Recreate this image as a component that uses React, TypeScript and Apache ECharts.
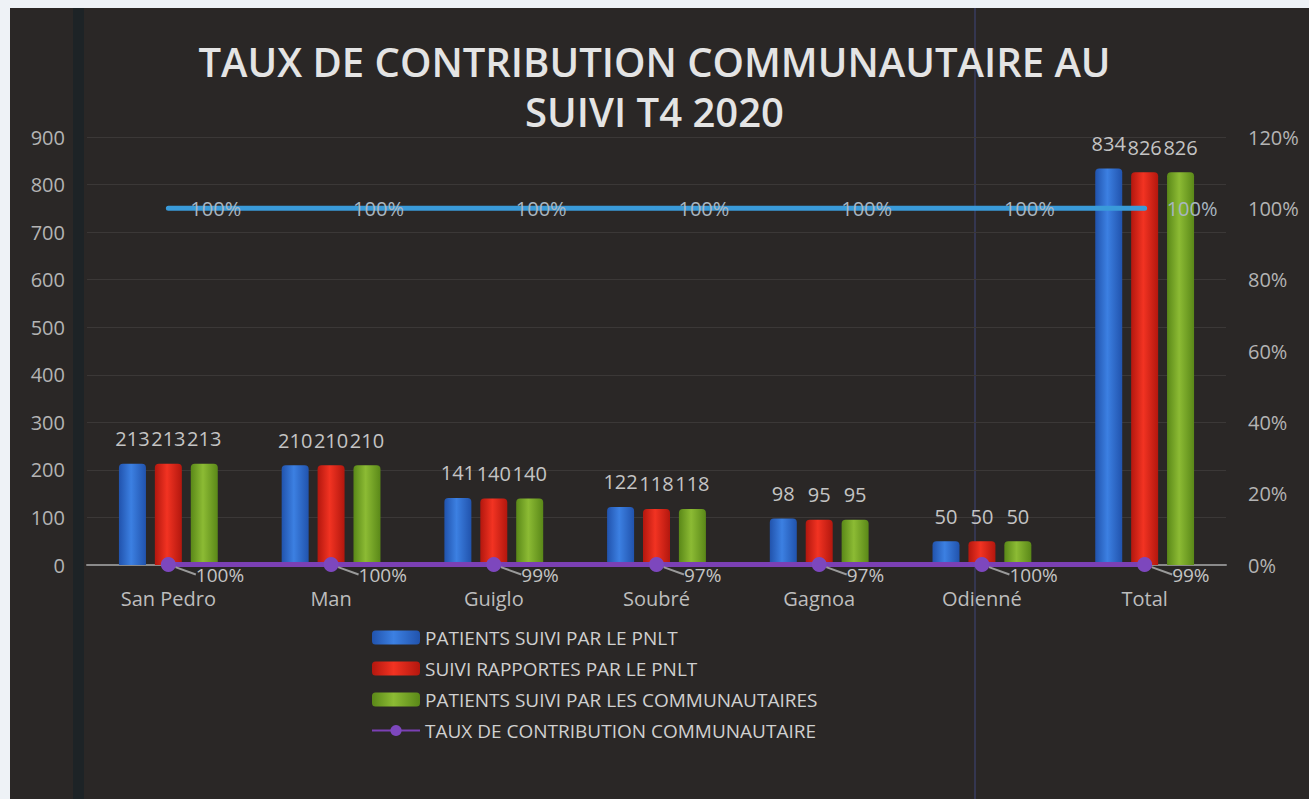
import React, { useEffect, useRef } from "react";
import * as echarts from "echarts";

const categories = ["San Pedro", "Man", "Guiglo", "Soubré", "Gagnoa", "Odienné", "Total"];
const suiviPNLT = [213, 210, 141, 122, 98, 50, 834];
const rapportesPNLT = [213, 210, 140, 118, 95, 50, 826];
const suiviCommunautaires = [213, 210, 140, 118, 95, 50, 826];
const tauxContribution = [1.0, 1.0, 0.99, 0.97, 0.97, 1.0, 0.99];
const tauxSecondaire = [1, 1, 1, 1, 1, 1, 1];

const legendNames = [
  "PATIENTS SUIVI PAR LE PNLT",
  "SUIVI RAPPORTES PAR LE PNLT",
  "PATIENTS SUIVI PAR LES COMMUNAUTAIRES",
  "TAUX DE CONTRIBUTION COMMUNAUTAIRE",
];

const FONT = "Open Sans";

function barGrad(edge: string, mid: string) {
  return new echarts.graphic.LinearGradient(0, 0, 1, 0, [
    { offset: 0, color: edge },
    { offset: 0.45, color: mid },
    { offset: 1, color: edge },
  ]);
}

export default function App() {
  const ref = useRef<HTMLDivElement>(null);
  useEffect(() => {
    if (!ref.current) return;
    const chart = echarts.init(ref.current, undefined, { renderer: "svg" });
    const pct = (v: number) => Math.round(v * 100) + "%";
    const barLabel = {
      show: true,
      position: "top" as const,
      distance: 15,
      color: "#c4c4c4",
      fontSize: 20,
      fontFamily: FONT,
    };
    chart.setOption({
      animation: false,
      backgroundColor: "#2a2726",
      textStyle: { fontFamily: FONT },
      title: {
        text: "TAUX DE CONTRIBUTION COMMUNAUTAIRE AU\nSUIVI T4 2020",
        left: "center",
        top: 31,
        textStyle: {
          color: "#e4e4e4",
          fontSize: 40,
          fontWeight: 600,
          lineHeight: 50,
          fontFamily: FONT,
        },
      },
      graphic: [
        { type: "rect", shape: { x: 0, y: 0, width: 10, height: 799 }, style: { fill: "#eef2f6" }, z: 100 },
        { type: "rect", shape: { x: 0, y: 0, width: 1309, height: 8 }, style: { fill: "#eef2f6" }, z: 100 },
        { type: "rect", shape: { x: 73, y: 8, width: 11, height: 791 }, style: { fill: "#1d2326" }, z: -1 },
        { type: "line", shape: { x1: 975, y1: 8, x2: 975, y2: 799 }, style: { stroke: "#343650", lineWidth: 2 }, z: -1 },
      ],
      legend: {
        data: legendNames,
        orient: "vertical",
        left: 366,
        top: 623,
        itemWidth: 48,
        itemHeight: 14,
        itemGap: 12,
        textStyle: { color: "#d0d0d0", fontSize: 19, fontFamily: FONT },
      },
      grid: { left: 87, right: 83, top: 137, bottom: 234 },
      xAxis: {
        type: "category",
        data: categories,
        axisLine: { lineStyle: { color: "#8a8a8a", width: 2 } },
        axisTick: { show: false },
        axisLabel: { color: "#bdbdbd", fontSize: 20, margin: 23, fontFamily: FONT },
      },
      yAxis: [
        {
          type: "value",
          min: 0,
          max: 900,
          interval: 100,
          axisLine: { show: false },
          axisTick: { show: false },
          axisLabel: { color: "#b4b4b4", fontSize: 20, margin: 22, fontFamily: FONT },
          splitLine: { lineStyle: { color: "#3b3837", width: 1 } },
        },
        {
          type: "value",
          min: 0,
          max: 1.2,
          interval: 0.2,
          axisLine: { show: false },
          axisTick: { show: false },
          axisLabel: {
            color: "#b4b4b4",
            fontSize: 20,
            margin: 22,
            fontFamily: FONT,
            formatter: (v: number) => pct(v),
          },
          splitLine: { show: false },
        },
      ],
      series: [
        {
          name: legendNames[0],
          type: "bar",
          data: suiviPNLT,
          barWidth: 27,
          barGap: "33%",
          itemStyle: { color: barGrad("#2153ad", "#3c80e2"), borderRadius: [4, 4, 0, 0] },
          label: barLabel,
          z: 2,
        },
        {
          name: legendNames[1],
          type: "bar",
          data: rapportesPNLT,
          barWidth: 27,
          barGap: "33%",
          itemStyle: { color: barGrad("#b3170e", "#f23322"), borderRadius: [4, 4, 0, 0] },
          label: barLabel,
          z: 2,
        },
        {
          name: legendNames[2],
          type: "bar",
          data: suiviCommunautaires,
          barWidth: 27,
          barGap: "33%",
          itemStyle: { color: barGrad("#5a8818", "#8cbb34"), borderRadius: [4, 4, 0, 0] },
          label: barLabel,
          z: 2,
        },
        {
          name: legendNames[3],
          type: "line",
          data: tauxContribution,
          yAxisIndex: 0,
          symbol: "circle",
          symbolSize: 15,
          lineStyle: { color: "#7b40b4", width: 5 },
          itemStyle: { color: "#7d47bd" },
          label: {
            show: true,
            position: "right",
            distance: 6,
            color: "#c4c4c4",
            fontSize: 19,
            fontFamily: FONT,
            formatter: (p: any) => pct(p.value),
          },
          labelLayout: { dx: 14, dy: 10 },
          labelLine: { show: true, lineStyle: { color: "#9a9a9a", width: 2 } },
          z: 5,
        },
        {
          name: "Taux (axe secondaire)",
          type: "line",
          data: tauxSecondaire,
          yAxisIndex: 1,
          symbol: "circle",
          symbolSize: 2,
          showSymbol: true,
          lineStyle: { color: "#3a9bd9", width: 5, cap: "round" },
          itemStyle: { color: "#3a9bd9" },
          label: {
            show: true,
            position: "right",
            distance: 21,
            color: "#a9b6c0",
            fontSize: 20,
            fontFamily: FONT,
            formatter: (p: any) => pct(p.value),
          },
          z: 4,
        },
      ],
    });
    return () => chart.dispose();
  }, []);
  return (
    <div
      ref={ref}
      style={{ position: "fixed", left: 0, top: 0, width: 1309, height: 799 }}
    />
  );
}
